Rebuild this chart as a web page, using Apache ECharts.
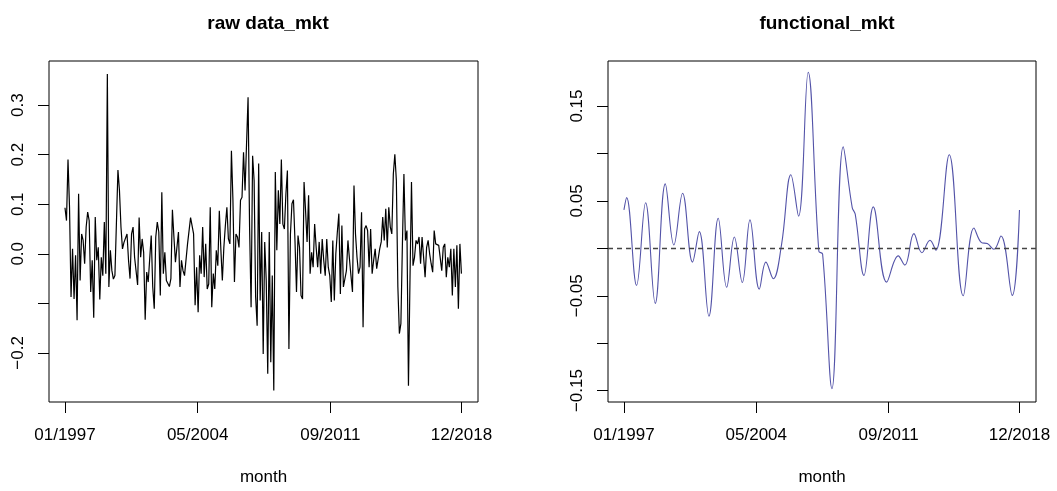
<!DOCTYPE html>
<html><head><meta charset="utf-8">
<script src="https://cdn.jsdelivr.net/npm/echarts@6/dist/echarts.min.js"></script>
<style>html,body{margin:0;background:#fff}#c{width:1057px;height:491px}</style>
</head><body><div id="c"></div>
<script>
// raw monthly returns, 01/1997 .. 12/2018
const rawValues = [
  0.093,0.067,0.190,0.094,-0.087,0.010,-0.091,-0.003,-0.134,0.121,-0.054,0.040,0.027,-0.020,0.054,0.084,
  0.067,-0.077,-0.013,-0.129,0.074,-0.013,0.013,-0.092,-0.007,-0.044,0.064,-0.040,0.363,-0.067,0.007,
  -0.034,-0.051,-0.044,-0.047,0.169,0.128,0.054,0.010,0.023,0.023,0.040,-0.013,-0.050,0.040,0.054,
  -0.007,-0.010,-0.063,0.073,-0.007,0.030,0.003,-0.133,-0.037,-0.057,-0.054,0.037,-0.067,-0.111,
  0.034,0.064,0.044,-0.084,0.124,-0.040,0.003,-0.054,-0.050,-0.066,-0.050,0.089,0.034,-0.017,-0.020,
  0.044,-0.067,-0.013,-0.034,-0.044,-0.042,0.020,0.020,0.073,0.071,0.040,-0.104,-0.027,-0.118,-0.003,
  -0.040,0.054,-0.047,0.020,-0.071,-0.061,0.094,-0.108,-0.040,-0.071,0.007,-0.024,0.087,0.010,-0.054,
  0.013,0.057,0.094,0.030,0.020,0.208,0.108,-0.057,0.040,0.034,0.013,0.108,0.114,0.205,0.128,0.124,
  0.316,0.054,-0.108,0.198,0.148,-0.087,
  -0.145,0.182,-0.094,0.044,-0.202,0.024,-0.054,-0.242,0.044,-0.219,-0.044,-0.276,0.165,0.007,
  0.128,0.060,0.190,0.060,0.050,0.120,0.168,-0.192,0.040,0.101,0.109,0.027,-0.077,0.037,0.013,
  -0.084,-0.091,0.145,0.087,0.024,0.118,-0.040,0.003,-0.027,0.060,0.013,-0.027,0.024,-0.040,0.030,
  -0.013,-0.044,0.030,-0.027,-0.044,-0.097,0.027,-0.094,0.000,0.044,0.081,-0.081,0.057,-0.067,
  -0.064,-0.034,0.027,-0.010,-0.044,-0.077,0.138,0.040,-0.007,-0.040,-0.027,0.084,-0.148,0.050,
  0.057,0.047,-0.027,0.050,-0.040,-0.013,0.010,-0.030,-0.010,0.010,0.024,0.074,0.027,0.091,0.013,
  0.094,0.054,0.040,0.161,0.201,0.148,-0.067,-0.161,-0.141,0.020,0.161,0.027,0.047,-0.266,-0.054,
  0.145,-0.024,-0.007,0.027,0.020,0.034,-0.020,0.034,0.037,-0.047,0.013,0.027,0.000,-0.020,-0.037,
  0.047,0.020,0.020,0.017,0.013,-0.034,0.013,0.020,-0.047,-0.007,-0.027,0.010,-0.084,0.010,-0.067,
  0.017,-0.111,0.020,-0.040
];
// functional smooth: month index and value at its turning points
const fnMonths = [0,1.8,8.4,14.4,20.8,27.5,33.2,39.0,45.6,50.1,56.5,62.7,68.3,73.4,78.7,83.8,90.0,94.4,
  99.3,104.8,111.0,116.1,122.5,129.6,132.1,138.3,145.8,151.8,153.8,159.6,165.8,174.7,182.4,186.8,192.8,
  198.1,203.5,207.4,216.3,225.6,232.7,237.8,241.6,246.0,250.7,258.2,263];
const fnValues = [0.0405,0.0535,-0.039,0.048,-0.058,0.068,0.0035,0.058,-0.0145,0.0176,-0.0715,0.0317,
  -0.041,0.012,-0.036,0.030,-0.043,-0.0145,-0.032,0.004,0.0775,0.034,0.1856,-0.003,-0.006,-0.148,0.107,
  0.043,0.036,-0.0285,0.0437,-0.0356,-0.008,-0.0176,0.0155,-0.0046,0.0085,-0.002,0.0986,-0.050,0.0215,
  0.006,0.005,-0.001,0.013,-0.0496,0.0405];
const xTicks = [0, 88, 176, 263];
const xTickLabels = ['01/1997', '05/2004', '09/2011', '12/2018'];
const rawYTicks = [-0.2, -0.1, 0, 0.1, 0.2, 0.3];
const rawYLabels = [-0.2, 0, 0.1, 0.2, 0.3];
const fnYTicks = [-0.15, -0.1, -0.05, 0, 0.05, 0.1, 0.15];
const fnYLabels = [-0.15, -0.05, 0.05, 0.15];

const FONT = 'Liberation Sans';
const fmt = d => v => (v < 0 ? '\u2212' : '') + Math.abs(v).toFixed(d);
const rawData = rawValues.map((v, k) => [k * 263 / (rawValues.length - 1), v]);
const fnData = fnMonths.map((m, k) => [m, fnValues[k]]);

const xAxis = gi => ({
  type: 'value', gridIndex: gi, min: -10.6, max: 274,
  name: 'month', nameLocation: 'middle', nameGap: 67,
  nameTextStyle: { fontFamily: FONT, fontSize: 17, color: '#000' },
  axisLine: { show: false, onZero: false }, splitLine: { show: false },
  axisTick: { show: true, length: 11, customValues: xTicks, lineStyle: { color: '#000' } },
  axisLabel: { customValues: xTicks, margin: 25, fontFamily: FONT, fontSize: 17, color: '#000',
    formatter: v => xTickLabels[xTicks.indexOf(v)] || '' }
});
const yAxis = (gi, min, max, ticks, labels, d) => ({
  type: 'value', gridIndex: gi, min, max,
  axisLine: { show: false, onZero: false }, splitLine: { show: false },
  axisTick: { show: true, length: 11, customValues: ticks, lineStyle: { color: '#000' } },
  axisLabel: { customValues: labels, rotate: 90, margin: 22, fontFamily: FONT, fontSize: 17,
    color: '#000', formatter: fmt(d) }
});

const chart = echarts.init(document.getElementById('c'));
chart.setOption({
  animation: false,
  title: [
    { text: 'raw data_mkt', left: 263, top: 9, textAlign: 'center',
      textStyle: { fontFamily: FONT, fontSize: 19, fontWeight: 'bold', color: '#000' } },
    { text: 'functional_mkt', left: 822, top: 9, textAlign: 'center',
      textStyle: { fontFamily: FONT, fontSize: 19, fontWeight: 'bold', color: '#000' } }
  ],
  grid: [
    { left: 49, top: 61, width: 429, height: 341, show: true, borderColor: '#000', borderWidth: 1 },
    { left: 608, top: 61, width: 428, height: 341, show: true, borderColor: '#000', borderWidth: 1 }
  ],
  xAxis: [xAxis(0), xAxis(1)],
  yAxis: [
    yAxis(0, -0.299, 0.389, rawYTicks, rawYLabels, 1),
    yAxis(1, -0.162, 0.1975, fnYTicks, fnYLabels, 2)
  ],
  series: [
    { type: 'line', xAxisIndex: 0, yAxisIndex: 0, data: rawData, showSymbol: false,
      lineStyle: { color: '#000', width: 1.2 } },
    { type: 'line', xAxisIndex: 1, yAxisIndex: 1, data: fnData, showSymbol: false, smooth: 0.4,
      lineStyle: { color: '#5353a8', width: 1.1 },
      markLine: { silent: true, symbol: 'none', label: { show: false },
        lineStyle: { color: '#444', type: [5, 4], width: 1.3 }, data: [{ yAxis: 0 }] } }
  ]
});
</script></body></html>
